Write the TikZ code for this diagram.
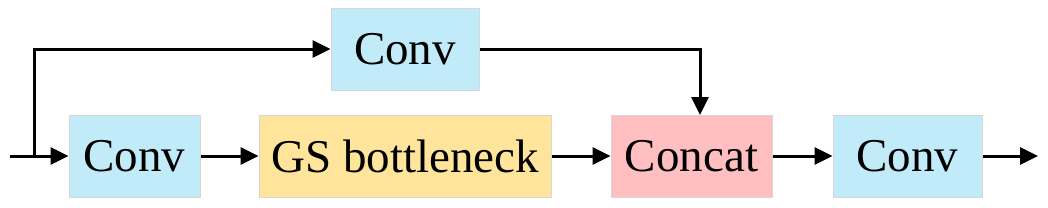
\documentclass[tikz,border=0pt]{standalone}
\usepackage{fontspec}
\setmainfont{Liberation Serif}
\usetikzlibrary{arrows.meta}
\definecolor{convblue}{RGB}{193,235,249}
\definecolor{gsyellow}{RGB}{255,228,156}
\definecolor{catpink}{RGB}{255,191,193}
\definecolor{boxline}{RGB}{215,215,215}
\tikzset{
  blk/.style={draw=boxline, line width=1pt, minimum height=82pt, inner sep=0pt,
    font=\fontsize{47}{56}\selectfont},
  farr/.style={-{Triangle[length=18pt, width=17pt]}, line width=3pt, black},
}
\begin{document}
\begin{tikzpicture}[x=1pt,y=-1pt]
\useasboundingbox (0,0) rectangle (1048,207);
\node[blk, fill=convblue, minimum width=131pt] (conva) at (134.5,156) {Conv};
\node[blk, fill=gsyellow, minimum width=292pt] (gsb) at (405,156) {GS bottleneck};
\node[blk, fill=catpink, minimum width=161pt] (cat) at (691.5,156) {Concat};
\node[blk, fill=convblue, minimum width=149pt] (convb) at (907.5,156) {Conv};
\node[blk, fill=convblue, minimum width=148pt] (convt) at (405,49) {Conv};
\coordinate (in) at (10,156);
\coordinate (split) at (34,156);
\coordinate (catin) at (700,115);
\coordinate (out) at (1038,156);
% main path
\draw[farr] (in) -- (conva.west);
\draw[farr] (conva.east) -- (gsb.west);
\draw[farr] (gsb.east) -- (cat.west);
\draw[farr] (cat.east) -- (convb.west);
\draw[farr] (convb.east) -- (out);
% side branch
\draw[farr] (split) |- (convt.west);
\draw[farr] (convt.east) -| (catin);
\end{tikzpicture}
\end{document}
